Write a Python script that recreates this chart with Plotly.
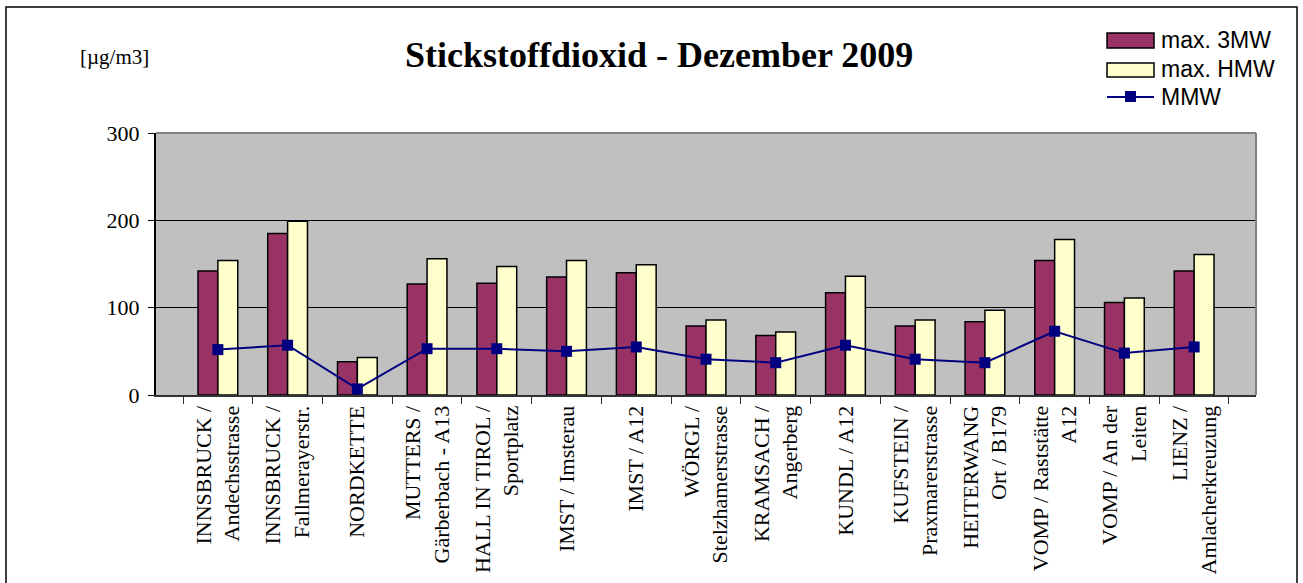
import plotly.graph_objects as go

stations = [
    "INNSBRUCK /<br>Andechsstrasse",
    "INNSBRUCK /<br>Fallmerayerstr.",
    "NORDKETTE",
    "MUTTERS /<br>Gärberbach - A13",
    "HALL IN TIROL /<br>Sportplatz",
    "IMST / Imsterau",
    "IMST / A12",
    "WÖRGL /<br>Stelzhamerstrasse",
    "KRAMSACH /<br>Angerberg",
    "KUNDL / A12",
    "KUFSTEIN /<br>Praxmarerstrasse",
    "HEITERWANG<br>Ort / B179",
    "VOMP / Raststätte<br>A12",
    "VOMP / An der<br>Leiten",
    "LIENZ /<br>Amlacherkreuzung",
]
max_3mw = [142, 185, 38, 127, 128, 135, 140, 79, 68, 117, 79, 84, 154, 106, 142]
max_hmw = [154, 199, 43, 156, 147, 154, 149, 86, 72, 136, 86, 97, 178, 111, 161]
mmw = [52, 57, 7, 53, 53, 50, 55, 41, 37, 57, 41, 37, 73, 48, 55]

serif = "Liberation Serif"
sans = "Liberation Sans"

fig = go.Figure()
fig.add_trace(go.Bar(x=stations, y=max_3mw, name="max. 3MW",
                     marker=dict(color="#993366", line=dict(color="black", width=1.5))))
fig.add_trace(go.Bar(x=stations, y=max_hmw, name="max. HMW",
                     marker=dict(color="#FFFFCC", line=dict(color="black", width=1.5))))
fig.add_trace(go.Scatter(x=stations, y=mmw, name="MMW", mode="lines+markers",
                         line=dict(color="#000080", width=2),
                         marker=dict(symbol="square", size=11, color="#000080")))

# pixel -> paper helpers (plot area 156..1256 x 133..395)
def px(x):
    return (x - 156) / 1100

def py(y):
    return (395 - y) / 262

shapes = [
    # outer frame
    dict(type="rect", xref="paper", yref="paper", x0=px(6), x1=px(1297), y0=py(620), y1=py(7),
         line=dict(color="black", width=1.5)),
    # gray top / right border of plot area
    dict(type="line", xref="paper", yref="paper", x0=0, x1=1, y0=1, y1=1,
         line=dict(color="#808080", width=2)),
    dict(type="line", xref="paper", yref="paper", x0=1, x1=1, y0=0, y1=1,
         line=dict(color="#808080", width=2)),
    # legend
    dict(type="rect", xref="paper", yref="paper", x0=px(1107), x1=px(1154), y0=py(48), y1=py(33),
         fillcolor="#993366", line=dict(color="black", width=1.5)),
    dict(type="rect", xref="paper", yref="paper", x0=px(1107), x1=px(1154), y0=py(77), y1=py(63),
         fillcolor="#FFFFCC", line=dict(color="black", width=1.5)),
    dict(type="line", xref="paper", yref="paper", x0=px(1107), x1=px(1154), y0=py(97), y1=py(97),
         line=dict(color="#000080", width=2)),
    dict(type="rect", xref="paper", yref="paper", x0=px(1125), x1=px(1136), y0=py(102), y1=py(91),
         fillcolor="#000080", line=dict(width=0)),
]

annotations = [
    dict(text="<b>Stickstoffdioxid - Dezember 2009</b>", xref="paper", yref="paper",
         x=px(659), y=py(55), xanchor="center", yanchor="middle", showarrow=False,
         font=dict(family=serif, size=36, color="black")),
    dict(text="[µg/m3]", xref="paper", yref="paper", x=px(114), y=py(57),
         xanchor="center", yanchor="middle", showarrow=False,
         font=dict(family=serif, size=21, color="black")),
]
for label, ypix in [("max. 3MW", 40), ("max. HMW", 69), ("MMW", 97)]:
    annotations.append(dict(text=label, xref="paper", yref="paper", x=px(1159), y=py(ypix),
                            xanchor="left", yanchor="middle", showarrow=False,
                            font=dict(family=sans, size=23, color="black")))

fig.update_layout(
    width=1303, height=583,
    margin=dict(l=156, r=47, t=133, b=188),
    paper_bgcolor="white",
    plot_bgcolor="#C0C0C0",
    barmode="group", bargap=0.43, bargroupgap=0,
    showlegend=False,
    shapes=shapes,
    annotations=annotations,
    xaxis=dict(
        type="category", tickangle=-90, tickson="boundaries", automargin=False,
        ticks="outside", ticklen=7, tickcolor="#333333",
        showline=True, linecolor="#333333", linewidth=2,
        showgrid=False,
        tickfont=dict(family=serif, size=22, color="black"),
    ),
    yaxis=dict(
        range=[0, 300], dtick=100, ticks="outside", ticklen=6, tickcolor="black",
        automargin=False, ticklabelstandoff=4,
        showline=True, linecolor="black", linewidth=2,
        showgrid=True, gridcolor="black", gridwidth=1, zeroline=False,
        tickfont=dict(family=serif, size=22, color="black"),
    ),
)

# page has a default 8px body margin; drop it so the figure sits at the window origin
fig.write_html("out.html", config={"displayModeBar": False},
               post_script="document.body.style.margin = '0';")
